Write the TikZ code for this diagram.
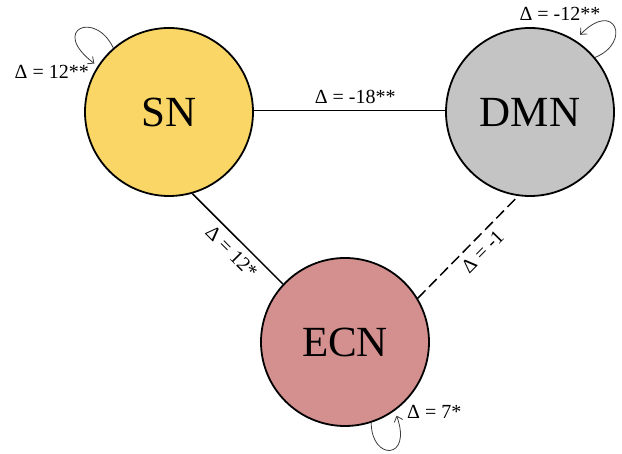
\documentclass[tikz,border=0pt]{standalone}
\usepackage{fontspec}
\setmainfont{Liberation Serif}
\usetikzlibrary{arrows.meta}

\definecolor{sncol}{RGB}{249,214,102}
\definecolor{dmncol}{RGB}{196,196,196}
\definecolor{ecncol}{RGB}{212,143,143}
\definecolor{loopcol}{RGB}{60,60,60}

\tikzset{
  network/.style={circle, draw=black, line width=1.8pt, minimum size=168pt,
    inner sep=0pt, font=\fontsize{43}{50}\selectfont},
  link/.style={draw=black, line width=1.5pt},
  weaklink/.style={link, dash pattern=on 11pt off 5pt},
  deltalabel/.style={font=\fontsize{20}{24}\selectfont, inner sep=0pt},
  selfloop/.style={draw=loopcol, line width=0.8pt,
    -{Straight Barb[length=5pt,width=9pt]}}
}

\begin{document}
\begin{tikzpicture}[x=1pt,y=1pt]
  \useasboundingbox (0,0) rectangle (622,454);

  % the three networks
  \node[network, fill=sncol]  (SN)  at (169,342) {SN};
  \node[network, fill=dmncol] (DMN) at (530,342) {DMN};
  \node[network, fill=ecncol] (ECN) at (345,112) {ECN};

  % links between networks
  \draw[link] (SN.1) -- (DMN.179)
    node[deltalabel, pos=.53, above=6pt] {Δ = -18**};
  \draw[link] (SN.-74) -- (ECN.137.4)
    node[deltalabel, pos=.54, sloped, below=6pt] {Δ = 12*};
  \draw[weaklink] (ECN.31) -- (DMN.-98)
    node[deltalabel, pos=.55, sloped, below=6pt] {Δ = -1};

  % self connections
  \coordinate (snLoopEnd)  at ([shift={(147:89)}]SN.center);
  \coordinate (dmnLoopEnd) at ([shift={(57:92)}]DMN.center);
  \coordinate (ecnLoopEnd) at ([shift={(-55:90)}]ECN.center);

  \draw[selfloop] (SN.131) .. controls +(-18,38) and +(-45,34) .. (snLoopEnd);
  \draw[selfloop] (DMN.40) .. controls +(37,15) and +(35,36) .. (dmnLoopEnd);
  \draw[selfloop] (ECN.-72) .. controls +(0,-38) and +(16,-45) .. (ecnLoopEnd);

  \node[deltalabel, anchor=base east] (snDelta)  at (89,375)  {Δ = 12**};
  \node[deltalabel, anchor=base]      (dmnDelta) at (560,433) {Δ = -12**};
  \node[deltalabel, anchor=base west] (ecnDelta) at (407,35)  {Δ = 7*};
\end{tikzpicture}
\end{document}
